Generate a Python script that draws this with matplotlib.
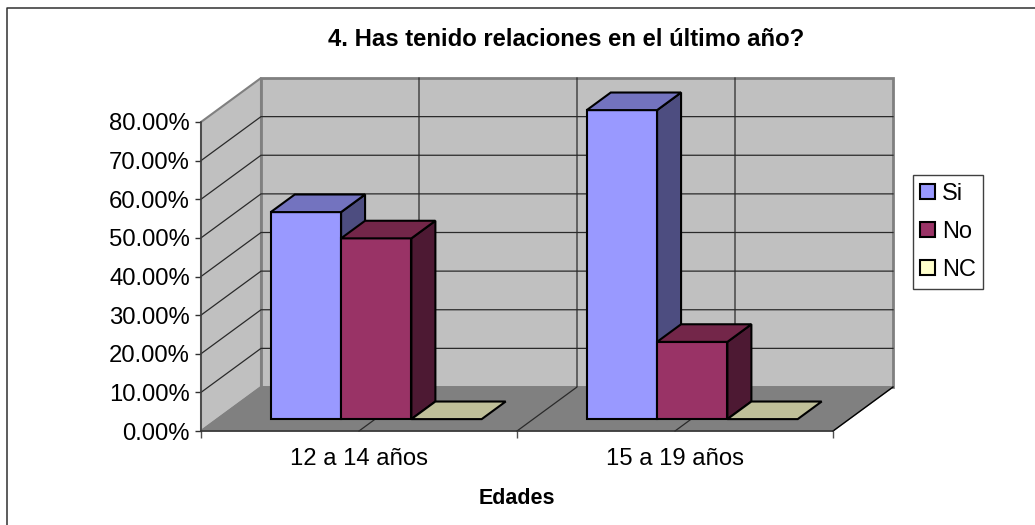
import matplotlib
matplotlib.use("Agg")
import matplotlib.pyplot as plt
from matplotlib.lines import Line2D
from matplotlib.patches import Polygon, Patch

plt.rcParams['font.family'] = ['Liberation Sans', 'DejaVu Sans']

TITLE = "4. Has tenido relaciones en el último año?"
XLABEL = "Edades"
categories = ["12 a 14 años", "15 a 19 años"]
series_names = ["Si", "No", "NC"]
si_values = [53.6, 80.0]
no_values = [46.8, 20.0]
nc_values = [0.0, 0.0]
y_ticks = [0, 10, 20, 30, 40, 50, 60, 70, 80]

# front, top, side shades for every series
COLORS = {
    "Si": ("#9999FF", "#7373BF", "#4D4D80"),
    "No": ("#993366", "#732649", "#4D1933"),
    "NC": ("#FFFFCC", "#BFBF99", "#808066"),
}
WALL = "#C0C0C0"
FLOOR = "#808080"
GRID = "#2a2a2a"

W, H = 1035, 525
PX_X = 316.0     # pixels per category
PX_Y = 3.8625    # pixels per percent
DX = 60 / PX_X   # depth shift of the whole box, in data units
DY = 44 / PX_Y

BAR_W = 0.2225
BAR_START = 0.1695
D0, D1 = 0.27, 0.67  # bar position in the depth of the box


def proj(x, y, d=0.0):
    return (x + d * DX, y + d * DY)


def box(ax, x0, x1, h, colors):
    front, top, side = colors
    kw = dict(ec="black", lw=1.5, joinstyle="miter", zorder=4)
    if h > 0:
        ax.add_patch(Polygon([proj(x1, 0, D0), proj(x1, 0, D1), proj(x1, h, D1), proj(x1, h, D0)], fc=side, **kw))
        ax.add_patch(Polygon([proj(x0, 0, D0), proj(x1, 0, D0), proj(x1, h, D0), proj(x0, h, D0)], fc=front, **kw))
    ax.add_patch(Polygon([proj(x0, h, D0), proj(x1, h, D0), proj(x1, h, D1), proj(x0, h, D1)], fc=top, **kw))


fig = plt.figure(figsize=(W / 100, H / 100), dpi=100, facecolor="white")
# chart frame: only its left and top sides are inside the picture
fig.add_artist(Line2D([6.5 / W, 6.5 / W, 1], [0, 1 - 8 / H, 1 - 8 / H], transform=fig.transFigure,
                      color="#303030", lw=1.1))
ax = fig.add_axes([0, 0, 1, 1])
ax.patch.set_visible(False)
ax.set_xlim(-201 / PX_X, (W - 201) / PX_X)
ax.set_ylim((431 - H) / PX_Y, 431 / PX_Y)

n_cat = len(categories)
y_max = y_ticks[-1]

# walls and floor
ax.add_patch(Polygon([proj(0, 0), proj(0, y_max), proj(0, y_max, 1), proj(0, 0, 1)],
                     fc=WALL, ec=FLOOR, lw=1.5, zorder=1))
ax.add_patch(Polygon([proj(0, 0, 1), proj(n_cat, 0, 1), proj(n_cat, y_max, 1), proj(0, y_max, 1)],
                     fc=WALL, ec=FLOOR, lw=2, zorder=1))
ax.add_patch(Polygon([proj(0, 0), proj(n_cat, 0), proj(n_cat, 0, 1), proj(0, 0, 1)],
                     fc=FLOOR, ec=FLOOR, lw=1, zorder=1))

# gridlines, on the walls and across the floor
for v in y_ticks[1:-1]:
    xs, ys = zip(proj(0, v), proj(0, v, 1), proj(n_cat, v, 1))
    ax.plot(xs, ys, color=GRID, lw=0.9, zorder=2)
for g in [0.5, 1.0, 1.5]:
    xs, ys = zip(proj(g, 0), proj(g, 0, 1), proj(g, y_max, 1))
    ax.plot(xs, ys, color=GRID, lw=0.9, zorder=2)
xs, ys = zip(proj(n_cat, 0), proj(n_cat, 0, 1))
ax.plot(xs, ys, color="black", lw=1, zorder=2)

# bars
for i in range(n_cat):
    for j, (name, vals) in enumerate(zip(series_names, [si_values, no_values, nc_values])):
        x0 = i + BAR_START + j * BAR_W
        box(ax, x0, x0 + BAR_W, vals[i], COLORS[name])

# axes
for s in ["top", "right"]:
    ax.spines[s].set_visible(False)
ax.spines["left"].set_position(("data", 0))
ax.spines["left"].set_bounds(0, y_max)
ax.spines["left"].set_linewidth(1.1)
ax.spines["left"].set_color("#404040")
ax.spines["bottom"].set_position(("data", 0))
ax.spines["bottom"].set_bounds(0, n_cat)
ax.spines["bottom"].set_color("#303030")
ax.spines["bottom"].set_linewidth(1.1)
ax.set_yticks(y_ticks)
ax.set_yticklabels(["%.2f%%" % v for v in y_ticks], fontsize=17.2)
ax.tick_params(axis="y", length=4.5, width=1, pad=3.5, color="#303030")
ax.set_xticks(range(n_cat + 1))
ax.set_xticklabels([])
ax.tick_params(axis="x", which="major", length=5, width=1, color="#505050")
ax.set_xticks([i + 0.5 for i in range(n_cat)], minor=True)
ax.set_xticklabels(categories, minor=True, fontsize=17.2)
ax.tick_params(axis="x", which="minor", length=0, pad=12)

fig.text(566 / W, 1 - 39 / H, TITLE, ha="center", va="center", fontsize=17.2, fontweight="bold")
fig.text(516.5 / W, 1 - 499 / H, XLABEL, ha="center", va="center", fontsize=15.5, fontweight="bold")

handles = [Patch(fc=COLORS[n][0], ec="black", lw=1.5) for n in series_names]
leg = fig.legend(handles, series_names, loc="center", bbox_to_anchor=(948 / W, 1 - 232 / H),
                 fontsize=17, frameon=True, fancybox=False, edgecolor="#404040", framealpha=1,
                 handlelength=0.6, handleheight=0.6, handletextpad=0.3, labelspacing=0.68,
                 borderpad=0.32, borderaxespad=0)
leg.get_frame().set_linewidth(1)

fig.savefig("out.png", dpi=100)
